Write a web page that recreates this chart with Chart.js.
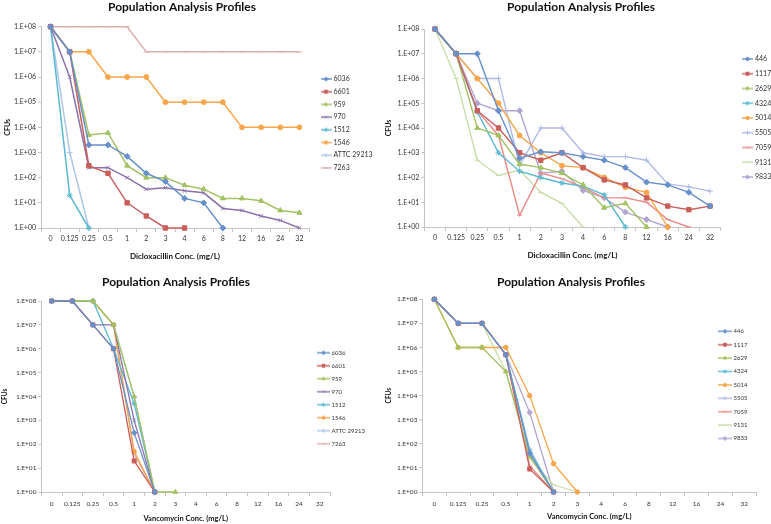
<!DOCTYPE html>
<html>
<head>
<meta charset="utf-8">
<script src="https://cdn.jsdelivr.net/npm/chart.js@4.4.1/dist/chart.umd.min.js"></script>
<style>
  html, body { margin: 0; padding: 0; background: #fff; }
  #sheet { position: relative; width: 771px; height: 524px; overflow: hidden; }
  #sheet canvas { position: absolute; }
</style>
</head>
<body>
<div id="sheet">
  <canvas id="dicloxA" width="385" height="262" style="left:0;top:0"></canvas>
  <canvas id="dicloxB" width="386" height="262" style="left:385px;top:0"></canvas>
  <canvas id="vancoA" width="385" height="262" style="left:0;top:262px"></canvas>
  <canvas id="vancoB" width="386" height="262" style="left:385px;top:262px"></canvas>
</div>
<script>
Chart.defaults.font.family = 'Lato, "Open Sans", sans-serif';
Chart.defaults.color = '#333';

// concentration categories (mg/L) and the log axis ticks
const concLabels = ['0', '0.125', '0.25', '0.5', '1', '2', '3', '4', '6', '8', '12', '16', '24', '32'];
const cfuTicks = [1, 1e1, 1e2, 1e3, 1e4, 1e5, 1e6, 1e7, 1e8];

// left column strains
const strainsA = ['6036', '6601', '959', '970', '1512', '1546', 'ATTC 29213', '7263'];
const coloursA = ['#6690CB', '#C95E5B', '#A2C263', '#8B72AD', '#59B8D1', '#F6A64B', '#AFC6E5', '#DDAEA9'];
const markersA = ['rectRot', 'rect', 'triangle', 'crossRot', 'star', 'circle', 'cross', 'line'];

// right column strains
const strainsB = ['446', '1117', '2629', '4324', '5014', '5505', '7059', '9131', '9833'];
const coloursB = ['#6690CB', '#C95E5B', '#A2C263', '#59B8D1', '#F6A64B', '#AEBBE6', '#E98B87', '#C8DDA5', '#B3A5D2'];
const markersB = ['rectRot', 'rect', 'triangle', 'star', 'circle', 'cross', 'line', 'line', 'rectRot'];

// CFUs per concentration, one row per strain
const dicloxACfu = [
  [1e8, 1e7, 2e3, 2e3, 7e2, 1.5e2, 70, 15, 10, 1, null, null, null, null],
  [1e8, 1e7, 3e2, 1.5e2, 10, 3, 1, 1, null, null, null, null, null, null],
  [1e8, 1e7, 5e3, 6e3, 3e2, 1e2, 1e2, 50, 35, 15, 15, 12, 5, 4],
  [1e8, 1e6, 2.5e2, 2.5e2, 1e2, 35, 40, 30, 25, 6, 5, 3, 2, 1],
  [1e8, 20, 1, null, null, null, null, null, null, null, null, null, null, null],
  [1e8, 1e7, 1e7, 1e6, 1e6, 1e6, 1e5, 1e5, 1e5, 1e5, 1e4, 1e4, 1e4, 1e4],
  [1e8, 1e3, 1, null, null, null, null, null, null, null, null, null, null, null],
  [1e8, 1e8, 1e8, 1e8, 1e8, 1e7, 1e7, 1e7, 1e7, 1e7, 1e7, 1e7, 1e7, 1e7]
];

const dicloxBCfu = [
  [1e8, 1e7, 1e7, 5e4, 6e2, 1.1e3, 1e3, 7e2, 5e2, 2.5e2, 65, 50, 25, 7],
  [1e8, 1e7, 5e4, 1e4, 1e3, 5e2, 1e3, 2.5e2, 80, 50, 15, 7, 5, 7],
  [1e8, 1e7, 1e4, 5e3, 3.5e2, 2.5e2, 1.5e2, 50, 6, 9, 1, null, null, null],
  [1e8, 1e7, 4.5e4, 1e3, 1.8e2, 1e2, 60, 45, 20, 1, null, null, null, null],
  [1e8, 1e7, 1e6, 1e5, 5e3, 1e3, 3e2, 2.5e2, 1e2, 40, 25, 1, null, null],
  [1e8, 1e7, 1e6, 1e6, 3e2, 1e4, 1e4, 1e3, 7e2, 7e2, 5e2, 55, 42, 28],
  [1e8, 1e7, 5e4, 5e3, 3, 1.5e2, 90, 40, 15, 15, 10, 2, 1, null],
  [1e8, 1e6, 5e2, 1.2e2, 2e2, 25, 9, 1, null, null, null, null, null, null],
  [1e8, 1e7, 1e5, 5e4, 5e4, 1.5e2, 1.8e2, 30, 15, 4, 2, 1, null, null]
];

const vancoACfu = [
  [1e8, 1e8, 1e7, 1e6, 3e2, 1, null, null, null, null, null, null, null, null],
  [1e8, 1e8, 1e7, 1e6, 20, 1, null, null, null, null, null, null, null, null],
  [1e8, 1e8, 1e8, 1e7, 1e4, 1, 1, null, null, null, null, null, null, null],
  [1e8, 1e8, 1e7, 1e7, 1e3, 1, null, null, null, null, null, null, null, null],
  [1e8, 1e8, 1e8, 1e6, 5e3, 1, null, null, null, null, null, null, null, null],
  [1e8, 1e8, 1e8, 1e7, 50, 1, null, null, null, null, null, null, null, null],
  [1e8, 1e8, 1e8, 1e7, 1e4, 1, null, null, null, null, null, null, null, null],
  [1e8, 1e8, 1e8, 1e7, 40, 1, null, null, null, null, null, null, null, null]
];

const vancoBCfu = [
  [1e8, 1e7, 1e7, 5e5, 40, 1, null, null, null, null, null, null, null, null],
  [1e8, 1e7, 1e7, 5e5, 9, 1, null, null, null, null, null, null, null, null],
  [1e8, 1e6, 1e6, 1e5, 30, 1, null, null, null, null, null, null, null, null],
  [1e8, 1e7, 1e7, 5e5, 50, 1, null, null, null, null, null, null, null, null],
  [1e8, 1e6, 1e6, 1e6, 1e4, 15, 1, null, null, null, null, null, null, null],
  [1e8, 1e7, 1e7, 5e5, 60, 1, null, null, null, null, null, null, null, null],
  [1e8, 1e7, 1e7, 5e5, 12, 1, null, null, null, null, null, null, null, null],
  [1e8, 1e7, 1e7, 1e5, 25, 2, 1, null, null, null, null, null, null, null],
  [1e8, 1e7, 1e7, 5e5, 2e3, 1, null, null, null, null, null, null, null, null]
];

const markerRadius = { rect: 3.8, rectRot: 3.6, triangle: 3.6, circle: 3, crossRot: 3.2, star: 3.6, cross: 3.6, line: 3.2 };

// moves title and legend to where the original figure has them
const placeBoxes = {
  id: 'placeBoxes',
  afterLayout(chart, args, o) {
    const t = chart.titleBlock;
    const lh = Chart.helpers.toFont(t.options.font).lineHeight;
    t.left = o.titleX - 160;
    t.right = o.titleX + 160;
    t.top = o.titleY - lh / 2;
    t.bottom = t.top + lh;

    const lg = chart.legend;
    const pad = lg.options.labels.padding;
    lg.left = o.legendX - pad;
    lg.right = lg.left + 120;
    lg.top = o.legendY - pad;
    lg.bottom = lg.top + 400;
  }
};

function cfuLabel(v) {
  const e = Math.round(Math.log10(v));
  return '1.E+' + String(e).padStart(2, '0');
}

function legendIcon(colour, style, w, r) {
  const c = document.createElement('canvas');
  c.width = w;
  c.height = 10;
  const g = c.getContext('2d');
  g.strokeStyle = colour;
  g.fillStyle = colour;
  g.lineWidth = 1.4;
  g.beginPath();
  g.moveTo(0, 5);
  g.lineTo(w, 5);
  g.stroke();
  g.lineWidth = 1;
  Chart.helpers.drawPoint(g, { pointStyle: style, radius: r, borderWidth: 1, rotation: 0 }, w / 2, 5);
  return c;
}

function drawPanel(id, xTitle, names, rows, colours, markers, L) {
  const icons = names.map((n, i) => legendIcon(colours[i], markers[i], L.iconW, markerRadius[markers[i]] * 0.7 * L.m));

  const datasets = names.map((n, i) => ({
    label: n,
    data: rows[i],
    borderColor: colours[i],
    backgroundColor: colours[i],
    borderWidth: L.lineW,
    pointStyle: markers[i],
    pointRadius: markerRadius[markers[i]] * L.m,
    pointBorderWidth: 1,
    pointBackgroundColor: colours[i],
    pointBorderColor: colours[i],
    tension: 0,
    spanGaps: false,
    clip: false
  }));

  new Chart(document.getElementById(id), {
    type: 'line',
    data: { labels: concLabels, datasets },
    plugins: [placeBoxes],
    options: {
      responsive: false,
      animation: false,
      layout: { padding: { left: 0, top: L.top - 14.4, right: L.w - L.right - 1, bottom: 0 } },
      plugins: {
        placeBoxes: { titleX: L.titleX, titleY: L.titleY, legendX: L.legendX, legendY: L.legendY },
        title: {
          display: true,
          text: 'Population Analysis Profiles',
          color: '#111',
          font: { size: 12, weight: 'bold', lineHeight: 1.2 },
          padding: 0
        },
        legend: {
          position: 'right',
          align: 'start',
          maxWidth: 1,
          labels: {
            usePointStyle: true,
            pointStyleWidth: L.iconW - 3,
            padding: L.step - L.legendFont,
            color: '#333',
            font: { size: L.legendFont },
            generateLabels(chart) {
              return Chart.defaults.plugins.legend.labels.generateLabels(chart).map((it, i) => {
                it.pointStyle = icons[i];
                return it;
              });
            }
          }
        },
        tooltip: { enabled: false }
      },
      scales: {
        x: {
          type: 'category',
          offset: true,
          afterFit(s) { s.height = L.h - L.bottom; },
          grid: { offset: true, drawOnChartArea: false, drawTicks: true, tickLength: 4, color: '#c4c4c4' },
          border: { color: '#c4c4c4' },
          ticks: { autoSkip: false, maxRotation: 0, padding: L.tickPad, color: '#333', font: { size: L.tickFont } },
          title: {
            display: true,
            text: xTitle,
            color: '#111',
            font: { size: L.xTitleFont, weight: 'bold' },
            padding: { top: 0, bottom: L.xTitlePad }
          }
        },
        y: {
          type: 'logarithmic',
          min: 1,
          max: 1e8,
          afterFit(s) { s.width = L.left; },
          afterBuildTicks(s) { s.ticks = cfuTicks.map(v => ({ value: v })); },
          grid: { drawOnChartArea: false, drawTicks: true, tickLength: 3, color: '#c4c4c4' },
          border: { color: '#c4c4c4' },
          ticks: { padding: 2, color: '#333', font: { size: L.tickFont }, callback: v => cfuLabel(v) },
          title: {
            display: true,
            text: 'CFUs',
            color: '#111',
            font: { size: L.yTitleFont, weight: 'bold' },
            padding: { top: L.yTitlePad, bottom: 0 }
          }
        }
      }
    }
  });
}

drawPanel('dicloxA', 'Dicloxacillin Conc. (mg/L)', strainsA, dicloxACfu, coloursA, markersA,
  { w: 385, h: 262, left: 41, right: 309, top: 26.7, bottom: 228, titleX: 182, titleY: 7.5,
    legendX: 322, legendY: 75.5, step: 12.7, legendFont: 7, tickFont: 7, xTitleFont: 8, yTitleFont: 7,
    xTitlePad: 0.5, yTitlePad: 3.8, tickPad: 3, iconW: 11, m: 0.82, lineW: 1.5 });

drawPanel('dicloxB', 'Dicloxacillin Conc. (mg/L)', strainsB, dicloxBCfu, coloursB, markersB,
  { w: 386, h: 262, left: 39.4, right: 335.6, top: 29, bottom: 227, titleX: 196, titleY: 7,
    legendX: 358.5, legendY: 55.5, step: 14.75, legendFont: 7, tickFont: 7, xTitleFont: 8, yTitleFont: 7,
    xTitlePad: 1.5, yTitlePad: 0, tickPad: 3, iconW: 11, m: 0.82, lineW: 1.4 });

drawPanel('vancoA', 'Vancomycin Conc. (mg/L)', strainsA, vancoACfu, coloursA, markersA,
  { w: 385, h: 262, left: 41.4, right: 330, top: 39, bottom: 230, titleX: 176, titleY: 20,
    legendX: 318.5, legendY: 87.7, step: 13, legendFont: 6, tickFont: 6.5, xTitleFont: 7.5, yTitleFont: 6.5,
    xTitlePad: 0.8, yTitlePad: 1.3, tickPad: 4.4, iconW: 13, m: 0.75, lineW: 1.3 });

drawPanel('vancoB', 'Vancomycin Conc. (mg/L)', strainsB, vancoBCfu, coloursB, markersB,
  { w: 386, h: 262, left: 37.4, right: 371.2, top: 37.3, bottom: 230, titleX: 186, titleY: 20,
    legendX: 334.5, legendY: 66.3, step: 13.4, legendFont: 6, tickFont: 6.5, xTitleFont: 7.5, yTitleFont: 6.5,
    xTitlePad: 2.5, yTitlePad: 0.3, tickPad: 4.4, iconW: 14, m: 0.75, lineW: 1.3 });
</script>
</body>
</html>
